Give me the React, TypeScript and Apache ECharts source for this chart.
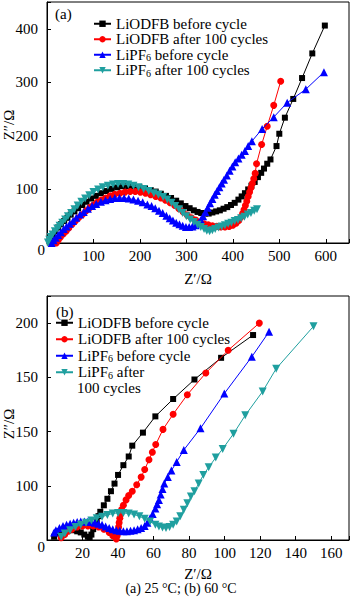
import React, { useEffect, useRef } from "react";
import * as echarts from "echarts";

const FONT = "'Liberation Serif', 'Times New Roman', serif";

const seriesNames = [
  "LiODFB before cycle",
  "LiODFB after 100 cycles",
  "LiPF6 before cycle",
  "LiPF6 after 100 cycles",
];
const colors = ["#000000", "#ff0000", "#0000ff", "#1f9f9f"];

// Panel (a) 25 °C : [Z', Z'']
const odfbBefore25 = [
  [6, 1], [9, 8], [13, 15], [18, 22], [24, 29], [30, 35], [37, 41], [44, 47], [51, 53], [59, 59],
  [67, 65], [76, 71], [85, 77], [95, 83], [105, 88], [116, 93], [127, 97], [139, 101], [151, 104],
  [163, 106], [175, 106], [187, 105], [199, 104], [211, 102], [223, 99], [234, 96], [245, 92],
  [256, 88], [267, 84], [278, 79], [288, 74], [298, 69], [307, 65], [316, 61], [324, 58], [332, 56],
  [340, 55], [348, 55], [356, 57], [364, 59], [372, 61], [380, 64], [388, 67], [396, 71], [404, 75],
  [412, 81], [419, 87], [426, 93], [433, 100], [440, 107], [447, 114], [454, 123], [461, 131],
  [467, 139], [474, 148], [481, 156], [494, 181], [500, 204], [512, 234], [530, 269], [549, 308],
  [571, 354], [598, 406],
];
const odfbAfter25 = [
  [20, 0], [24, 5], [29, 11], [35, 17], [41, 22], [47, 28], [54, 35], [61, 41], [68, 47], [76, 53],
  [84, 60], [92, 66], [100, 71], [108, 76], [117, 80], [126, 84], [136, 88], [146, 91], [157, 93],
  [168, 95], [179, 96], [190, 96], [201, 95], [212, 93], [223, 90], [234, 87], [245, 84], [255, 80],
  [265, 75], [275, 70], [284, 64], [293, 58], [302, 52], [311, 47], [320, 43], [329, 39], [338, 36],
  [347, 34], [356, 32], [365, 31], [374, 30], [383, 30], [392, 31], [400, 33], [407, 37], [413, 42],
  [417, 48], [421, 55], [424, 62], [427, 70], [430, 78], [433, 87], [436, 95], [439, 103], [442, 111],
  [445, 120], [448, 130], [451, 148], [462, 184], [474, 218], [488, 257], [503, 302],
];
const lipfBefore25 = [
  [10, 0], [14, 5], [19, 10], [24, 15], [30, 20], [36, 26], [42, 31], [49, 36], [56, 41], [63, 47],
  [71, 53], [79, 58], [88, 64], [97, 69], [106, 73], [116, 77], [126, 80], [136, 82], [146, 84],
  [156, 84], [166, 84], [176, 83], [186, 81], [196, 79], [206, 76], [216, 72], [225, 69], [233, 65],
  [241, 60], [249, 56], [257, 51], [264, 46], [271, 42], [278, 38], [285, 35], [292, 32], [299, 30],
  [306, 30], [313, 31], [320, 33], [326, 37], [331, 43], [336, 50], [341, 58], [346, 66], [351, 74],
  [356, 82], [361, 90], [366, 97], [371, 104], [376, 111], [381, 118], [387, 126], [393, 135],
  [399, 143], [405, 151], [412, 158], [419, 165], [426, 172], [433, 181], [441, 190], [463, 213],
  [488, 235], [517, 262], [557, 287], [596, 319],
];
const lipfAfter25 = [
  [2, 1], [5, 6], [8, 11], [12, 16], [17, 22], [22, 27], [27, 32], [33, 38], [39, 44], [45, 50],
  [52, 56], [59, 63], [66, 70], [74, 77], [82, 83], [91, 89], [100, 95], [110, 100], [120, 104],
  [131, 107], [142, 109], [153, 110], [164, 110], [175, 109], [186, 107], [197, 104], [208, 101],
  [219, 97], [230, 93], [240, 90], [250, 86], [259, 81], [268, 75], [276, 69], [284, 63], [292, 56],
  [300, 50], [308, 44], [316, 39], [324, 34], [331, 30], [338, 26], [344, 23], [350, 22], [356, 24],
  [362, 26], [369, 29], [376, 31], [383, 33], [390, 36], [397, 38], [404, 41], [411, 43], [418, 46],
  [425, 49], [432, 53], [439, 56], [446, 60], [452, 63],
];

// Panel (b) 60 °C
const odfbBefore60 = [
  [4, 3], [5, 6], [7, 8], [9, 9], [11, 10], [13, 10], [15, 9], [17, 8], [19, 7], [21, 5], [23, 3],
  [24, 2], [25, 5], [26, 10], [28, 17], [29, 22], [30, 26], [32, 32], [34, 38], [36, 45], [38, 52],
  [40, 60], [43, 69], [46, 77], [48, 87], [54, 99], [61, 114], [71, 130], [83, 148], [98, 168],
  [116, 189],
];
const odfbAfter60 = [
  [8, 2], [10, 5], [12, 8], [14, 10], [17, 12], [20, 13], [23, 13], [26, 13], [29, 12], [32, 10],
  [35, 7], [37, 4], [39, 1], [39.5, 4], [40, 8], [40.3, 12], [40.6, 16], [41, 20], [41.5, 24],
  [42, 28], [43, 32], [44.5, 37], [46, 41], [48, 45], [50.5, 51], [53, 58], [55, 65], [57.4, 74],
  [59.3, 81], [61.2, 88], [65.3, 102], [71, 116], [79, 134], [89.4, 154], [102, 175], [119.5, 200],
];
const lipfBefore60 = [
  [4, 7], [5, 9], [7, 11], [9, 13], [11, 14], [13, 15], [15, 16], [17, 16.5], [19, 17], [21, 17],
  [23, 17], [25, 16.5], [27, 16], [29, 15], [31, 14], [33, 12.5], [35, 11], [37, 10], [39, 9],
  [41, 8.5], [43, 8], [45, 8], [47, 8.5], [49, 9], [51, 10], [53, 11], [55, 13], [56.5, 16], [58, 20],
  [59.5, 24], [61, 29], [62, 33], [63, 37], [64, 42], [65, 47], [66, 52], [68, 58], [70, 64], [73, 72],
  [77, 83], [86.4, 103], [99.8, 135], [115.3, 169], [125, 192],
];
const lipfAfter60 = [
  [8, 3], [10, 6], [13, 9], [16, 12], [19, 14], [22, 16], [25, 18], [28, 20], [31, 21.5], [34, 23],
  [37, 24.5], [40, 25], [43, 25], [46, 24.5], [49, 23.5], [52, 22], [55, 19.5], [58, 17], [61, 14],
  [63, 12.5], [65, 11.5], [67, 11], [69, 12], [71, 14], [73, 17], [75, 22], [77, 28], [79, 34],
  [81, 40], [83, 45], [85.4, 52], [88, 60], [91, 67], [95, 76], [98.9, 84], [105, 98], [111.6, 115],
  [121.4, 137], [129, 158], [150, 197],
];

// Tick labels
const xTicksA = [100, 200, 300, 400, 500, 600];
const yTicksA = [0, 100, 200, 300, 400];
const yLabelsA = ["0", "100", "200", "300", "400"];
const xTicksB = [20, 40, 60, 80, 100, 120, 140, 160];
const yTicksB = [0, 50, 100, 150, 200];
const yLabelsB = ["0", "100", "150", "150", "200"];

const symbols = ["rect", "circle", "triangle", "triangle"];
const symbolRotates = [0, 0, 0, 180];
const symbolSizes = [6, 7, 8, 8];

const baseText = { fontFamily: FONT, fontSize: 15, color: "#000" };

function xAxisCfg(gridIndex: number, max: number, interval: number, ticks: number[], nameGap: number) {
  return {
    type: "value",
    gridIndex,
    min: 0,
    max,
    interval,
    name: "Z\u2032/\u03A9",
    nameLocation: "middle",
    nameGap,
    nameMoveOverlap: false,
    nameTextStyle: { ...baseText },
    axisLine: { onZero: false, lineStyle: { color: "#000", width: 1 } },
    axisTick: { inside: true, length: 4, lineStyle: { color: "#000", width: 1 } },
    axisLabel: {
      ...baseText,
      margin: 5,
      formatter: (v: number) => (ticks.includes(v) ? String(v) : ""),
    },
    splitLine: { show: false },
  };
}

function yAxisCfg(gridIndex: number, max: number, interval: number, ticks: number[], labels: string[]) {
  return {
    type: "value",
    gridIndex,
    min: 0,
    max,
    interval,
    axisLine: { onZero: false, lineStyle: { color: "#000", width: 1 } },
    axisTick: { inside: true, length: 4, lineStyle: { color: "#000", width: 1 } },
    axisLabel: {
      ...baseText,
      margin: 2,
      formatter: (v: number) => {
        const i = ticks.indexOf(v);
        if (i < 0) return "";
        if (v === 0) return "{z|" + labels[i] + "}";
        return "{n|" + labels[i] + "}";
      },
      rich: {
        n: { ...baseText, padding: [0, 7, 0, 0] },
        z: { ...baseText, padding: [14, 0, 0, 0] },
      },
    },
    splitLine: { show: false },
  };
}

const subRich = {
  sub: { fontFamily: FONT, fontSize: 10, color: "#000", verticalAlign: "bottom", lineHeight: 9 },
};

function legendFmtA(name: string) {
  return name.replace("LiPF6", "LiPF{sub|6}");
}
function legendFmtB(name: string) {
  if (name === seriesNames[3]) return "LiPF{sub|6} after";
  return name.replace("LiPF6", "LiPF{sub|6}");
}

const yNameStyle = {
  text: "Z\u2033/\u03A9",
  font: `15px ${FONT}`,
  fill: "#000",
  align: "center",
  verticalAlign: "middle",
};

export default function App() {
  const ref = useRef<HTMLDivElement>(null);
  useEffect(() => {
    if (!ref.current) return;
    const chart = echarts.init(ref.current, null, { renderer: "svg" });
    const dataA = [odfbBefore25, odfbAfter25, lipfBefore25, lipfAfter25];
    const dataB = [odfbBefore60, odfbAfter60, lipfBefore60, lipfAfter60];
    const mk = (data: number[][], i: number, idx: number) => ({
      type: "line",
      name: seriesNames[i],
      xAxisIndex: idx,
      yAxisIndex: idx,
      data,
      symbol: symbols[i],
      symbolRotate: symbolRotates[i],
      symbolSize: symbolSizes[i],
      showAllSymbol: true,
      lineStyle: { color: colors[i], width: 1 },
      itemStyle: { color: colors[i] },
      z: 2 + i,
    });
    const legendBase = {
      orient: "vertical",
      itemWidth: 17,
      itemHeight: 8,
      padding: 0,
      selectedMode: false,
      data: seriesNames,
      textStyle: { ...baseText, lineHeight: 15.5, rich: subRich },
    };
    chart.setOption({
      animation: false,
      backgroundColor: "#fff",
      grid: [
        { left: 47, top: 2, width: 302, height: 241, show: true, borderColor: "#000", borderWidth: 1, outerBoundsMode: "none" },
        { left: 47, top: 296, width: 302, height: 244, show: true, borderColor: "#000", borderWidth: 1, outerBoundsMode: "none" },
      ],
      xAxis: [xAxisCfg(0, 650, 100, xTicksA, 28), xAxisCfg(1, 170, 20, xTicksB, 26)],
      yAxis: [yAxisCfg(0, 450, 100, yTicksA, yLabelsA), yAxisCfg(1, 225, 50, yTicksB, yLabelsB)],
      legend: [
        { ...legendBase, left: 93, top: 16, itemGap: 0, formatter: legendFmtA },
        { ...legendBase, left: 55, top: 315, itemGap: 1, formatter: legendFmtB },
      ],
      series: [
        ...dataA.map((d, i) => mk(d, i, 0)),
        ...dataB.map((d, i) => mk(d, i, 1)),
      ],
      graphic: [
        { type: "text", x: 9, y: 125, rotation: Math.PI / 2, style: { ...yNameStyle } },
        { type: "text", x: 9, y: 424, rotation: Math.PI / 2, style: { ...yNameStyle } },
        { type: "text", left: 55, top: 6, style: { text: "(a)", font: `15px ${FONT}`, fill: "#000" } },
        { type: "text", left: 56, top: 304, style: { text: "(b)", font: `15px ${FONT}`, fill: "#000" } },
        { type: "text", left: 77, top: 380, style: { text: "100 cycles", font: `15px ${FONT}`, fill: "#000" } },
        {
          type: "text",
          x: 181,
          y: 588,
          style: {
            text: "(a) 25 \u00B0C; (b) 60 \u00B0C",
            font: `14px ${FONT}`,
            fill: "#000",
            align: "center",
            verticalAlign: "middle",
          },
        },
      ],
    });
    return () => chart.dispose();
  }, []);
  return (
    <div
      ref={ref}
      style={{ position: "absolute", left: 0, top: 0, width: 350, height: 599 }}
    />
  );
}
